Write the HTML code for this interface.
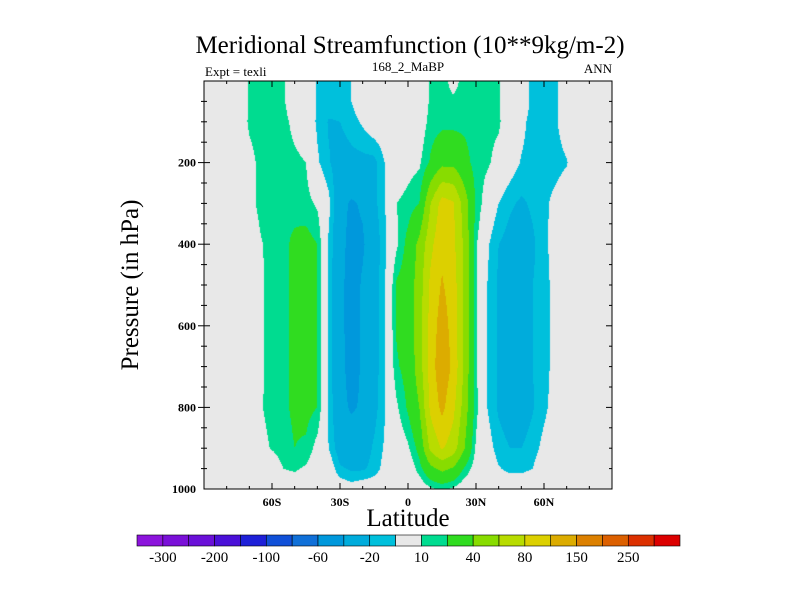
<!DOCTYPE html>
<html><head><meta charset="utf-8"><style>
body{margin:0;background:#fff;}
#wrap{position:relative;width:800px;height:600px;font-family:"Liberation Serif",serif;}
svg text{font-family:"Liberation Serif",serif;}
canvas{position:absolute;left:204px;top:81px;}
</style></head><body>
<div id="wrap">
<canvas id="cv" width="408" height="408"></canvas>
<svg id="sv" width="800" height="600" style="position:absolute;left:0;top:0">
<text x="410" y="53" font-size="25" text-anchor="middle">Meridional Streamfunction (10**9kg/m-2)</text>
<text x="205" y="76" font-size="13">Expt = texli</text>
<text x="408" y="71" font-size="13" text-anchor="middle">168_2_MaBP</text>
<text x="612" y="73" font-size="13" text-anchor="end">ANN</text>
<text x="408" y="526" font-size="25" text-anchor="middle">Latitude</text>
<text transform="translate(138,285) rotate(-90)" font-size="25" text-anchor="middle">Pressure (in hPa)</text>
<g id="axes"></g>
<g id="cbar"></g>
</svg>
</div>
<script>
const lats=[-90,-85,-80,-75,-70,-65,-60,-55,-50,-45,-40,-35,-30,-25,-20,-15,-10,-5,0,5,10,15,20,25,30,35,40,45,50,55,60,65,70,75,80,85,90];
const levels=[0,50,100,200,300,400,500,600,700,800,900,950,1000];
//            -90 -85 -80 -75 -70 -65 -60 -55 -50 -45 -40 -35 -30 -25 -20 -15 -10 -5  0   5   10  15  20  25  30  35  40  45  50  55  60  65  70 75 80 85 90
const r0  =[0,0,0,0,11,15,15,12,0,0,-11,-15,-15,-10,0,0,0,0,0,0,12,12,8,12,14,14,11,0,0,-14,-15,-13,0,0,0,0,0];
const r50 =[0,0,0,0,11,15,15,12,0,0,-11,-15,-15,-10,0,0,0,0,0,0,12,12,11,12,14,14,11,0,0,-14,-15,-13,0,0,0,0,0];
const r100=[0,0,0,0,12,15,15,14,6,0,-12,-21,-20,-15,-8,0,0,0,0,2,14,16,16,17,15,14,12,0,-6,-15,-15,-12,-2,0,0,0,0];
const r200=[0,0,0,0,6,13,15,15,13,10,-8,-19,-26,-24,-24,-24,-9,0,5,8,22,35,35,25,15,12,5,-3,-11,-15,-16,-15,-11,0,0,0,0];
const r300=[0,0,0,0,6,13,16,18,17,14,8,-6,-35,-42,-38,-24,-10,10,14,20,60,88,82,50,18,2,-10,-18,-22,-18,-13,-6,0,0,0,0,0];
const r400=[0,0,0,0,2,9,14,18,22,25,20,-12,-35,-45,-42,-30,-11,8,25,45,75,95,85,55,12,-8,-20,-25,-28,-22,-14,-3,0,0,0,0,0];
const r500=[0,0,0,0,0,8,14,18,22,25,20,-13,-35,-48,-38,-28,-10,22,28,50,85,102,90,55,12,-10,-22,-28,-30,-20,-16,-4,0,0,0,0,0];
const r600=[0,0,0,0,0,8,14,18,22,25,20,-13,-35,-48,-38,-28,-10,22,28,50,88,110,92,55,12,-10,-22,-28,-30,-20,-16,-4,0,0,0,0,0];
const r700=[0,0,0,0,0,8,14,18,22,25,20,-13,-35,-46,-38,-27,-10,18,26,50,90,115,95,55,12,-10,-22,-28,-30,-20,-16,-4,0,0,0,0,0];
const r800=[0,0,0,0,0,9,14,18,22,24,20,-12,-35,-42,-38,-25,-10,8,22,40,85,105,85,50,14,-10,-22,-28,-28,-21,-13,-4,0,0,0,0,0];
const r900=[0,0,0,0,0,6,11,16,20,18,5,-10,-28,-30,-28,-18,-8,0,8,25,65,82,70,40,8,-4,-15,-20,-20,-15,-6,0,0,0,0,0,0];
const r950=[0,0,0,0,0,0,0,10,12,8,0,0,-18,-22,-22,-16,-5,0,0,15,35,45,38,18,3,0,-9,-13,-13,-10,0,0,0,0,0,0,0];
const r1000=[0,0,0,0,0,0,0,0,0,0,0,0,0,-4,0,0,0,0,0,0,8,12,8,0,0,0,0,0,0,0,0,0,0,0,0,0,0];
const field=[r0,r50,r100,r200,r300,r400,r500,r600,r700,r800,r900,r950,r1000];
const bounds=[-300,-250,-200,-150,-100,-80,-60,-40,-20,-10,10,20,40,60,80,100,150,200,250,300];
const colors=["#8c14dc","#7a10d8","#6a10d8","#4a10d8","#1e20d8","#1050d8","#1070d8","#0098dc","#00acdc","#00c0dc","#e8e8e8","#00dc90","#30dc20","#88dc00","#b8dc00","#dcd000","#dcac00","#dc8000","#dc6000","#dc3000","#dc0000"];
const xTickVals=[-60,-30,0,30,60];
const xTickLabels=["60S","30S","0","30N","60N"];
const yTickVals=[200,400,600,800,1000];

const L=204,T=81,W=408,H=408;
const xs=lat=>L+(lat+90)/180*W;
const ys=p=>T+p/1000*H;
function colorIdx(v){let i=0;while(i<bounds.length&&v>=bounds[i])i++;return i;}
function valAt(lat,p){
  let j=Math.min(lats.length-2,Math.max(0,Math.floor((lat-lats[0])/5)));
  let fx=(lat-lats[j])/(lats[j+1]-lats[j]);
  let k=0;while(k<levels.length-2&&p>levels[k+1])k++;
  let fy=(p-levels[k])/(levels[k+1]-levels[k]);
  const a=field[k][j],b=field[k][j+1],c=field[k+1][j],d=field[k+1][j+1];
  return (a*(1-fx)+b*fx)*(1-fy)+(c*(1-fx)+d*fx)*fy;
}
const cv=document.getElementById('cv'),ctx=cv.getContext('2d');
const img=ctx.createImageData(W,H);
const rgb=colors.map(c=>[parseInt(c.substr(1,2),16),parseInt(c.substr(3,2),16),parseInt(c.substr(5,2),16)]);
for(let py=0;py<H;py++){for(let px=0;px<W;px++){
  const lat=(px+0.5)/W*180-90,p=(py+0.5)/H*1000;
  const c=rgb[colorIdx(valAt(lat,p))];const o=(py*W+px)*4;
  img.data[o]=c[0];img.data[o+1]=c[1];img.data[o+2]=c[2];img.data[o+3]=255;}}
ctx.putImageData(img,0,0);

const NS='http://www.w3.org/2000/svg';
function mk(tag,attrs,parent){const e=document.createElementNS(NS,tag);for(const k in attrs)e.setAttribute(k,attrs[k]);parent.appendChild(e);return e;}
const ax=document.getElementById('axes');
const frame=mk('rect',{x:L,y:T,width:W,height:H,fill:'none',stroke:'#000','stroke-width':1},ax);


for(let lat=-80;lat<=80;lat+=10){
  const maj=lat%30===0;const len=maj?6:3;const x=xs(lat);
  const t=mk('line',{x1:x,x2:x,y1:T+H,y2:T+H-len,stroke:'#000'},ax);
  
  
  const u=mk('line',{x1:x,x2:x,y1:T,y2:T+len,stroke:'#000'},ax);
  
  
}
xTickVals.forEach((v,i)=>{
  const t=mk('text',{x:xs(v),y:T+H+17,'font-size':12,'font-weight':'bold','text-anchor':'middle'},ax);t.textContent=xTickLabels[i];
  
  
});
for(let p=50;p<1000;p+=50){
  const maj=p%200===0;const len=maj?6:3;const y=ys(p);
  const a=mk('line',{x1:L-len,x2:L+len,y1:y,y2:y,stroke:'#000'},ax);
  
  
  const b=mk('line',{x1:L+W,x2:L+W-len,y1:y,y2:y,stroke:'#000'},ax);
  
  
}
yTickVals.forEach(v=>{
  const t=mk('text',{x:L-8,y:ys(v)+4,'font-size':12,'font-weight':'bold','text-anchor':'end'},ax);t.textContent=v;
  
  
});
const cb=document.getElementById('cbar');
const cbL=137,cbR=680,cbT=535,cbH=11,bw=(cbR-cbL)/colors.length;
colors.forEach((c,i)=>{
  const r=mk('rect',{x:cbL+i*bw,y:cbT,width:bw,height:cbH,fill:c,stroke:'#000','stroke-width':0.6},cb);
  
  
});
bounds.forEach((b,i)=>{
  if(i%2===0){const t=mk('text',{x:cbL+(i+1)*bw,y:cbT+27,'font-size':15,'text-anchor':'middle'},cb);t.textContent=b;
  
  }
});
</script>
</body></html>
